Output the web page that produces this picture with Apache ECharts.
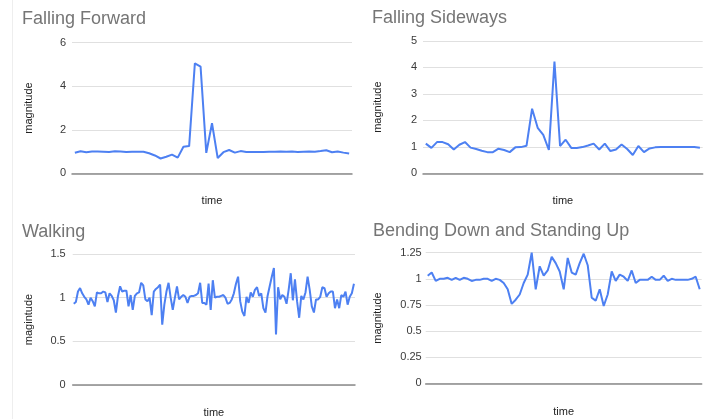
<!DOCTYPE html>
<html>
<head>
<meta charset="utf-8">
<script src="https://cdn.jsdelivr.net/npm/echarts@6/dist/echarts.min.js"></script>
<style>
html,body{margin:0;padding:0;background:#fff;}
#chart{width:720px;height:419px;}
</style>
</head>
<body>
<div id="chart"></div>
<script>
// ---- data ----
const titles = ['Falling Forward', 'Falling Sideways', 'Walking', 'Bending Down and Standing Up'];
const yNames = ['magnitude', 'magnitude', 'magintude', 'magnitude'];
const xName = 'time';

const fallingForward = [0.94,1.01,0.97,1.0,1.0,0.99,0.98,1.01,1.0,0.98,0.99,0.99,0.99,0.92,0.82,0.68,0.76,0.86,0.72,1.22,1.25,5.05,4.9,0.94,2.3,0.7,0.97,1.07,0.95,1.02,0.98,0.98,0.98,0.98,0.99,0.99,1.0,0.99,1.0,0.98,0.99,1.0,0.99,1.02,1.06,0.97,1.0,0.95,0.91];

const fallingSideways = [1.12,0.96,1.18,1.18,1.1,0.9,1.08,1.18,0.97,0.92,
0.85,0.8,0.8,0.93,0.88,0.8,0.98,0.99,1.04,2.44,
1.72,1.45,0.88,4.22,1.03,1.27,0.96,0.96,0.99,1.05,
1.12,0.9,1.12,0.84,0.9,1.09,0.92,0.69,1.03,0.8,
0.94,0.98,0.99,0.99,0.99,0.99,0.99,0.99,0.99,0.97];

const walking = [0.93,0.95,1.07,1.11,1.05,1.01,0.98,0.92,1.0,0.96,
0.90,1.06,1.05,1.05,1.07,1.06,0.95,1.05,1.02,0.97,
0.83,1.02,1.13,1.07,1.08,1.08,0.90,1.03,0.86,1.02,
1.05,1.06,1.17,1.14,0.98,0.96,1.0,0.80,1.07,1.1,
1.12,1.15,0.69,0.92,1.07,1.17,1.0,0.86,1.0,1.13,
0.98,1.01,1.03,1.01,0.94,1.01,1.02,1.02,1.03,1.05,
1.17,0.94,0.94,0.92,1.16,0.86,1.2,1.0,1.01,1.01,
1.02,1.03,1.0,0.93,0.94,0.98,1.05,1.16,1.24,0.96,
0.84,0.79,1.01,0.94,1.06,1.01,1.09,1.12,1.02,1.05,
0.88,0.83,1.02,1.13,1.24,1.34,0.58,1.12,0.98,1.03,
1.01,0.93,1.09,1.28,0.97,1.21,0.96,0.77,1.02,0.98,
1.06,1.24,1.09,0.90,0.83,0.98,0.98,1.01,1.12,1.11,
1.01,1.05,1.07,1.07,0.88,0.98,0.88,1.03,1.01,1.07,
0.92,1.01,1.05,1.16];

const bending = [1.03,1.06,0.98,1.0,1.0,1.01,0.99,1.01,0.99,1.01,
1.0,0.98,0.99,0.99,1.0,1.0,0.98,1.0,0.99,0.96,
0.9,0.76,0.8,0.85,0.96,1.04,1.25,0.9,1.12,1.03,
1.08,1.21,1.15,1.07,0.9,1.2,1.06,1.04,1.15,1.24,
1.13,0.82,0.79,0.9,0.74,0.85,1.07,0.98,1.04,1.02,
0.98,1.08,0.96,0.99,0.99,0.99,1.02,0.99,0.99,1.03,
0.98,1.0,0.99,0.99,0.99,0.99,1.0,1.02,0.9];

const yMax = [6, 5, 1.5, 1.25];
const yInterval = [2, 1, 0.5, 0.25];

// ---- layout ----
const seriesData = [fallingForward, fallingSideways, walking, bending];
const grids = [
  {left: 72, right: 368, top: 42.7, bottom: 245.7},
  {left: 423, right: 17.3, top: 41, bottom: 245.7},
  {left: 72.7, right: 365, top: 254, bottom: 33.3},
  {left: 425.7, right: 18.3, top: 252.7, bottom: 35.7}
];
const titlePos = [{left: 22, top: 10}, {left: 372, top: 9}, {left: 22, top: 223}, {left: 373, top: 222}];
const labelMargin = [6, 6, 7, 4];
const yNameGap = [38, 40, 38, 42];
const xNameGap = [22, 22, 22, 23];
const FONT = 'Arial, "Liberation Sans", sans-serif';

const option = {
  animation: false,
  backgroundColor: '#fff',
  textStyle: {fontFamily: FONT},
  title: titles.map((t, i) => ({
    text: t, left: titlePos[i].left, top: titlePos[i].top, padding: 0,
    textStyle: {fontSize: 18, fontWeight: 'normal', color: '#757575', fontFamily: FONT}
  })),
  grid: grids.map(g => Object.assign({containLabel: false}, g)),
  xAxis: seriesData.map((d, i) => ({
    type: 'category', gridIndex: i, boundaryGap: true,
    data: d.map((_, k) => k),
    name: xName, nameLocation: 'middle', nameGap: xNameGap[i],
    nameTextStyle: {fontSize: 11, color: '#222', fontFamily: FONT},
    axisLine: {show: true, lineStyle: {color: '#8a8a8a', width: 1.5}},
    axisTick: {show: false}, axisLabel: {show: false}, splitLine: {show: false}
  })),
  yAxis: seriesData.map((d, i) => ({
    type: 'value', gridIndex: i, min: 0, max: yMax[i], interval: yInterval[i],
    name: yNames[i], nameLocation: 'middle', nameGap: yNameGap[i], nameRotate: 90,
    nameTextStyle: {fontSize: 11, color: '#222', fontFamily: FONT},
    axisLine: {show: false}, axisTick: {show: false},
    axisLabel: {fontSize: 11, color: '#3a3a3a', margin: labelMargin[i], fontFamily: FONT},
    splitLine: {show: true, lineStyle: {color: '#e0e0e0', width: 1}}
  })),
  series: seriesData.map((d, i) => ({
    type: 'line', xAxisIndex: i, yAxisIndex: i, data: d,
    showSymbol: false, symbol: 'none',
    lineStyle: {color: '#4d80f2', width: 2}, z: 3
  })),
  graphic: [{
    type: 'line', shape: {x1: 12.5, y1: 0, x2: 12.5, y2: 419},
    style: {stroke: '#eeeeee', lineWidth: 1}, silent: true
  }]
};

const chart = echarts.init(document.getElementById('chart'), null, {renderer: 'canvas'});
chart.setOption(option);
</script>
</body>
</html>
